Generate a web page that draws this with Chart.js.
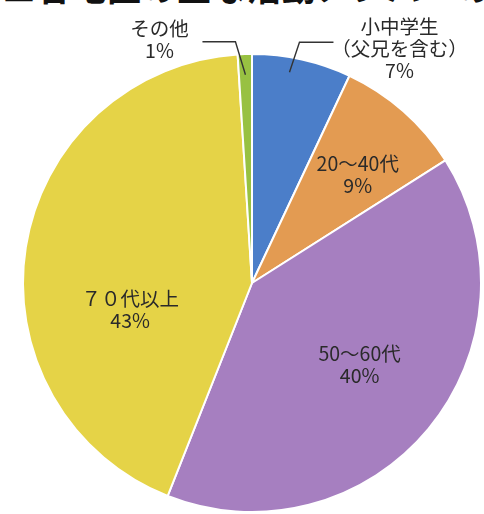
<!DOCTYPE html>
<html>
<head>
<meta charset="utf-8">
<script src="https://cdn.jsdelivr.net/npm/chart.js@4.4.1/dist/chart.umd.min.js"></script>
<style>
  html, body { margin: 0; padding: 0; background: #fff; }
  #wrap { position: relative; width: 484px; height: 514px; overflow: hidden; }
  #title {
    position: absolute; left: 2px; top: -30px; white-space: nowrap;
    font: bold 34px "Noto Sans CJK JP", sans-serif; color: #111; letter-spacing: 1px; line-height: 1;
  }
  canvas { position: absolute; left: 0; top: 0; }
</style>
</head>
<body>
<div id="wrap">
  <div id="title">■各地区の主な活動メンバーの年齢構成</div>
  <canvas id="pie" width="484" height="514"></canvas>
</div>
<script>
var categories = ["小中学生（父兄を含む）", "20〜40代", "50〜60代", "７０代以上", "その他"];
var labelLines = [["小中学生", "（父兄を含む）"], ["20〜40代"], ["50〜60代"], ["７０代以上"], ["その他"]];
var values = [7, 9, 40, 43, 1];
var colors = ["#4b7ec9", "#e39b52", "#a67fc0", "#e5d347", "#98c142"];

// where each label sits: inside ones by radius fraction + angle shift,
// outside ones with a leader line (anchor in slice, elbow, tail, text offset)
var labelLayout = [
  { out: true, at: 0.4, r: 0.935, elbow: [10, -30], tail: 34, text: [110, -24] },
  { r: 0.66, da: 3 },
  { r: 0.59, da: -2.4 },
  { r: 0.545, da: -21.5 },
  { out: true, at: 0.5, r: 0.91, elbow: [-10, -33], tail: -33, text: [-86, -35] }
];

var FONT = '19.5px "Noto Sans CJK JP", sans-serif';
var LINE_H = 22;

function drawLines(c, lines, x, yMid) {
  var y0 = yMid - (lines.length - 1) * LINE_H / 2;
  lines.forEach(function (t, k) { c.fillText(t, x, y0 + k * LINE_H); });
}

var pieLabels = {
  id: "pieLabels",
  afterDraw: function (chart) {
    var c = chart.ctx;
    var arcs = chart.getDatasetMeta(0).data;
    c.save();
    c.font = FONT;
    c.fillStyle = "#2a2a2a";
    c.textAlign = "center";
    c.textBaseline = "middle";
    c.strokeStyle = "#333";
    c.lineWidth = 1.4;
    arcs.forEach(function (arc, i) {
      var L = labelLayout[i];
      var lines = labelLines[i].concat([values[i] + "%"]);
      var R = arc.outerRadius;
      if (L.out) {
        var a = arc.startAngle + (arc.endAngle - arc.startAngle) * L.at;
        var ax = arc.x + Math.cos(a) * R * L.r;
        var ay = arc.y + Math.sin(a) * R * L.r;
        var ex = ax + L.elbow[0], ey = ay + L.elbow[1];
        c.beginPath();
        c.moveTo(ax, ay);
        c.lineTo(ex, ey);
        c.lineTo(ex + L.tail, ey);
        c.stroke();
        drawLines(c, lines, ax + L.text[0], ay + L.text[1]);
      } else {
        var m = (arc.startAngle + arc.endAngle) / 2 + L.da * Math.PI / 180;
        drawLines(c, lines, arc.x + Math.cos(m) * R * L.r, arc.y + Math.sin(m) * R * L.r);
      }
    });
    c.restore();
  }
};

new Chart(document.getElementById("pie"), {
  type: "pie",
  data: {
    labels: categories,
    datasets: [{
      data: values,
      backgroundColor: colors,
      borderColor: "#fff",
      borderWidth: 2
    }]
  },
  options: {
    responsive: false,
    animation: false,
    layout: { padding: { left: 22, right: 2, top: 52, bottom: 0 } },
    plugins: {
      legend: { display: false },
      tooltip: { enabled: false }
    }
  },
  plugins: [pieLabels]
});
</script>
</body>
</html>
